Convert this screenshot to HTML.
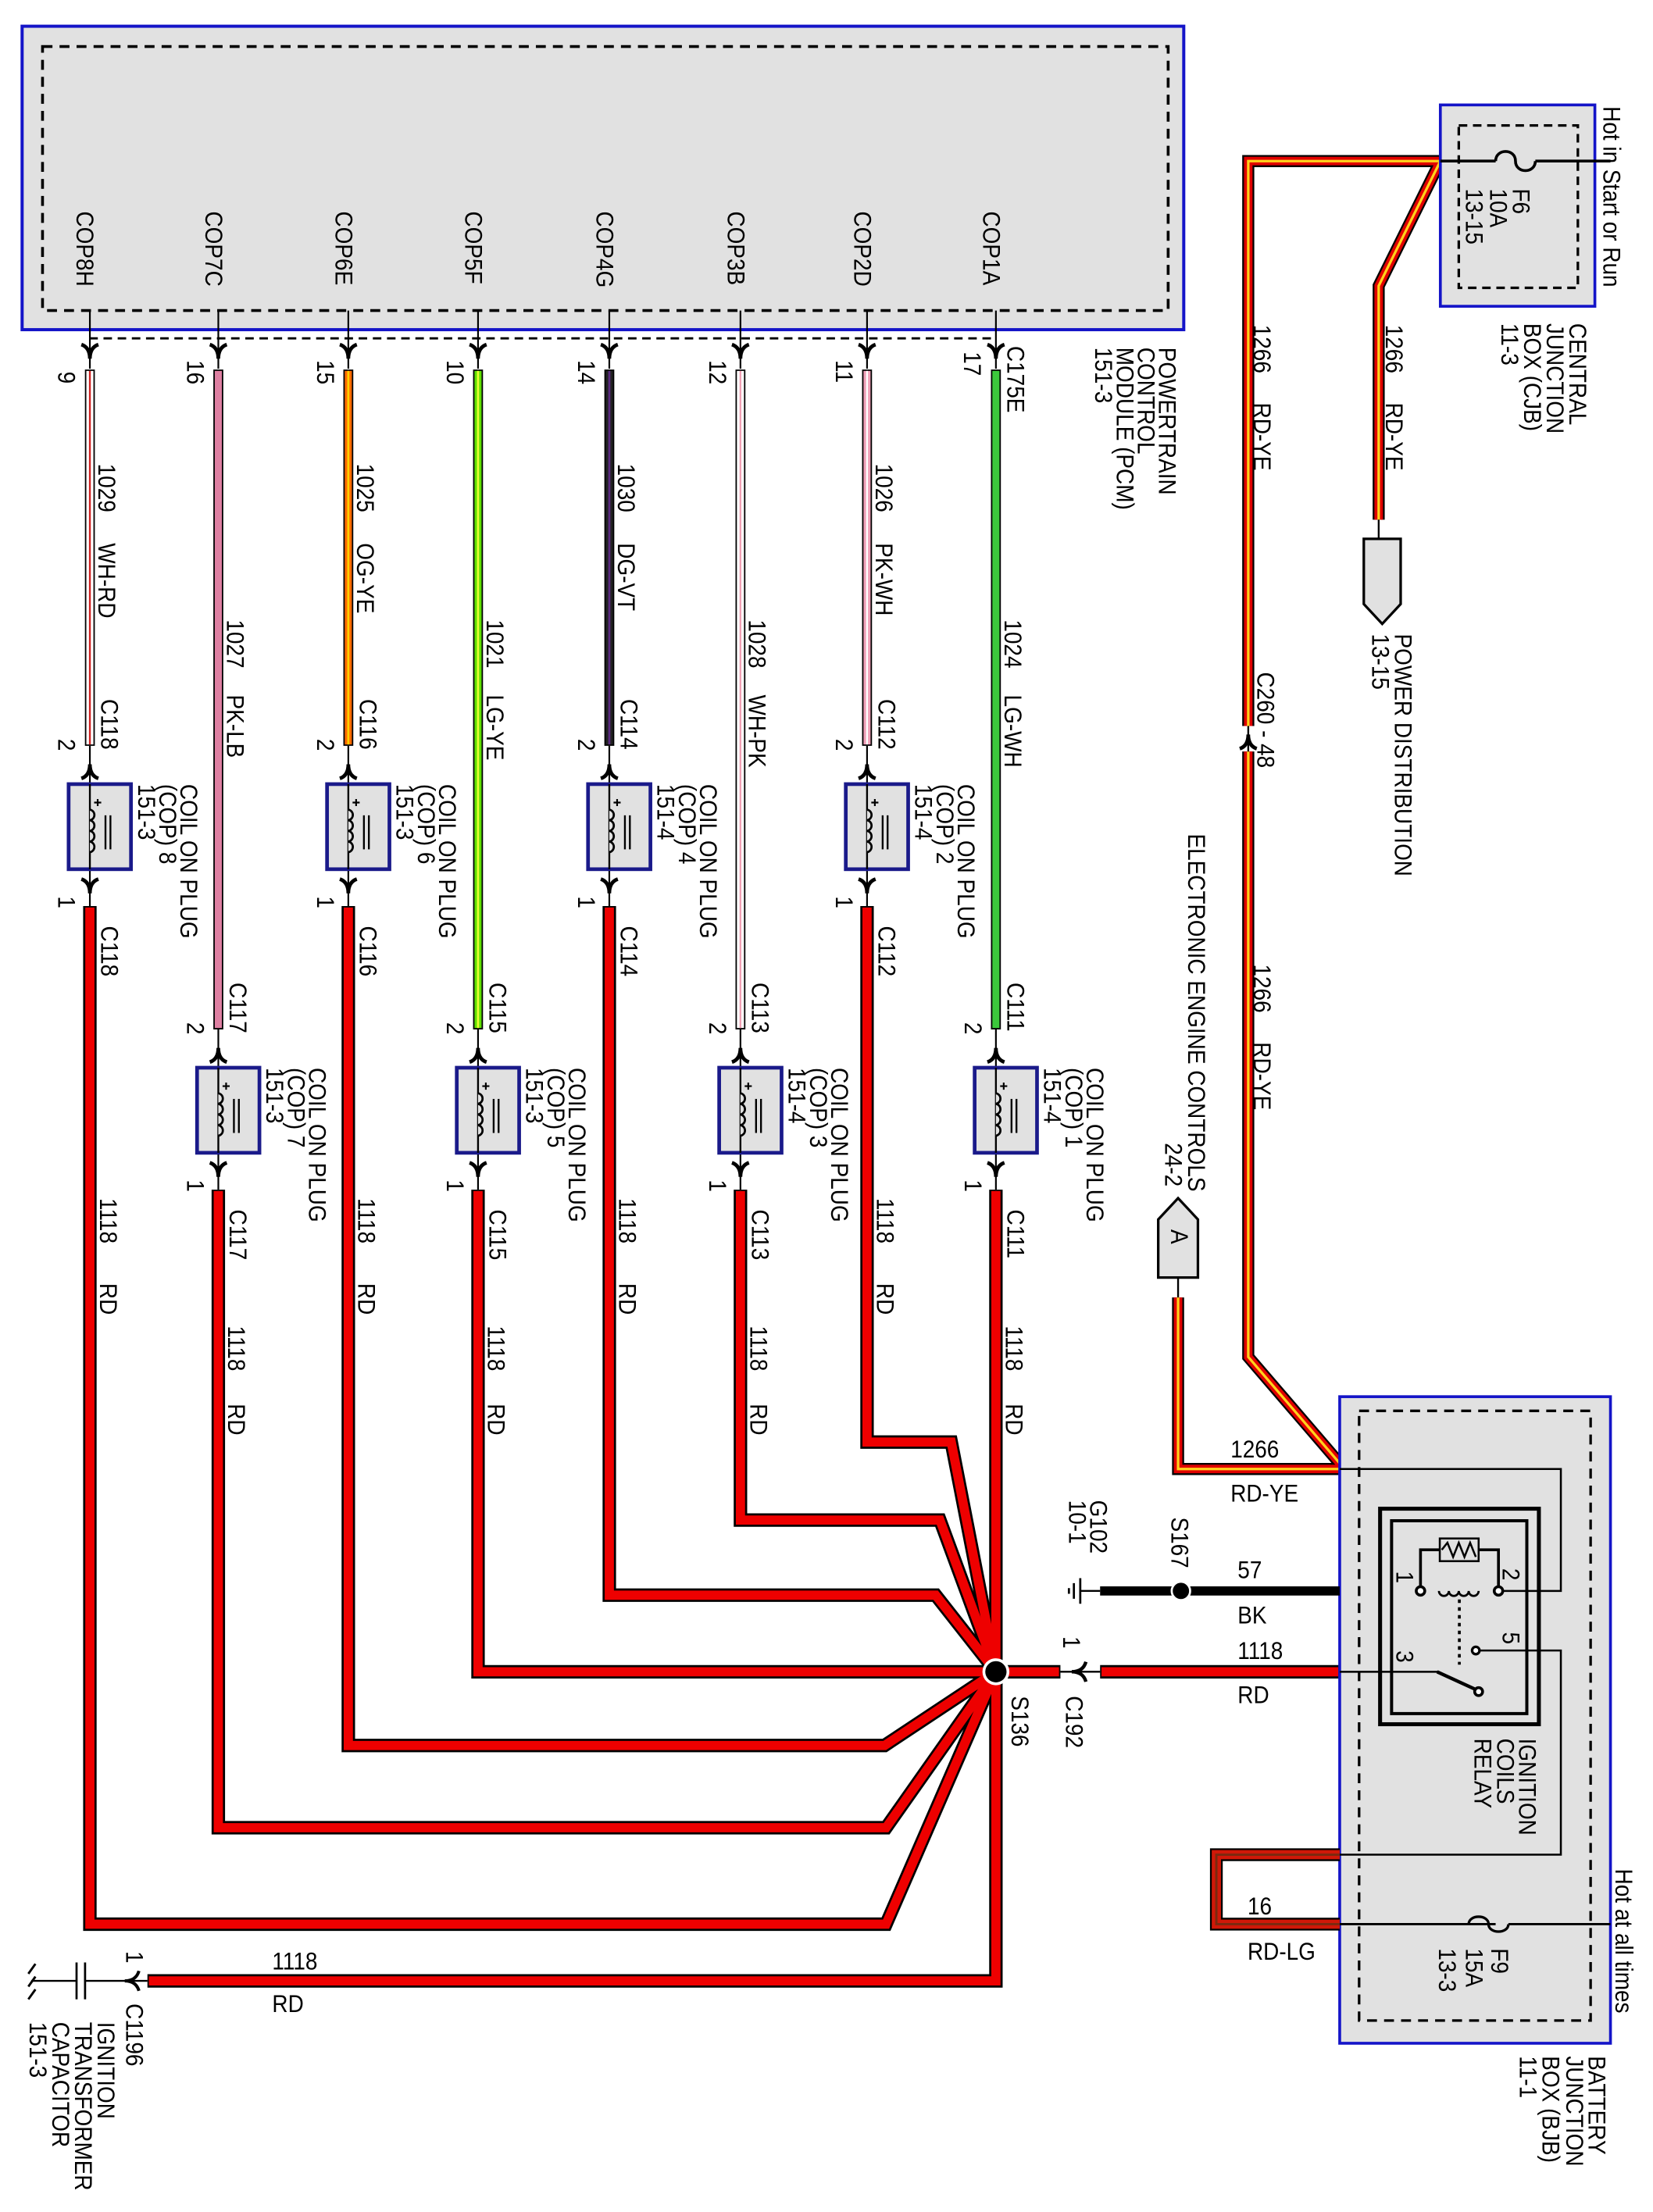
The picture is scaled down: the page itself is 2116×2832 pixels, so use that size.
<!DOCTYPE html>
<html><head><meta charset="utf-8">
<style>
html,body{margin:0;padding:0;background:#fff;}
svg{display:block;}
text{font-family:"Liberation Sans",Arial,sans-serif;font-size:17.5px;fill:#000;}
</style></head>
<body>
<svg xmlns="http://www.w3.org/2000/svg" xmlns:xlink="http://www.w3.org/1999/xlink" width="2116" height="2832" viewBox="0 0 1166 1560" preserveAspectRatio="none">
<defs>
<path id="ad" d="M-6,-6 Q0,-4 0,4 Q0,-4 6,-6" fill="none" stroke="#000" stroke-width="2.6"/>
<path id="au" d="M-6,6 Q0,4 0,-4 Q0,4 6,6" fill="none" stroke="#000" stroke-width="2.6"/>
<g id="coil">
<rect x="-15" y="0" width="44" height="60" fill="#e1e1e1" stroke="#1a1a8a" stroke-width="2.6"/>
<line x1="0" y1="0" x2="0" y2="60" stroke="#000" stroke-width="1.3"/>
<path d="M0,18 a3.8,3.8 0 0 1 0,7.5 a3.8,3.8 0 0 1 0,7.5 a3.8,3.8 0 0 1 0,7.5 a3.8,3.8 0 0 1 0,7.5" fill="#e1e1e1" stroke="#000" stroke-width="1.5"/>
<line x1="11" y1="22" x2="11" y2="46" stroke="#000" stroke-width="1.3"/>
<line x1="14.5" y1="22" x2="14.5" y2="46" stroke="#000" stroke-width="1.3"/>
<path d="M3,13 h5 M5.5,10.5 v5" stroke="#000" stroke-width="1.2"/>
</g>
</defs>

<rect x="15.6" y="18.5" width="819.4" height="214" fill="#e1e1e1" stroke="#1414c8" stroke-width="2.2"/>
<rect x="30" y="32.8" width="794" height="186.2" fill="none" stroke="#000" stroke-width="2" stroke-dasharray="7 5"/>
<line x1="63" y1="238.6" x2="700" y2="238.6" stroke="#000" stroke-width="1.6" stroke-dasharray="6 4"/>

<g stroke="#000" stroke-width="1.2">
<path d="M63.4,219V260 M154,219V260 M245.7,219V260 M337.2,219V260 M429.8,219V260 M522.3,219V260 M611.6,219V260 M702.5,219V260"/>
<path d="M63.4,526V639 M245.7,526V639 M429.8,526V639 M611.6,526V639"/>
<path d="M154,726V839 M337.2,726V839 M522.3,726V839 M702.5,726V839"/>
</g>
<g>
<use xlink:href="#ad" x="63.4" y="249"/><use xlink:href="#ad" x="154" y="249"/><use xlink:href="#ad" x="245.7" y="249"/><use xlink:href="#ad" x="337.2" y="249"/>
<use xlink:href="#ad" x="429.8" y="249"/><use xlink:href="#ad" x="522.3" y="249"/><use xlink:href="#ad" x="611.6" y="249"/><use xlink:href="#ad" x="702.5" y="249"/>
<use xlink:href="#au" x="63.4" y="543"/><use xlink:href="#au" x="245.7" y="543"/><use xlink:href="#au" x="429.8" y="543"/><use xlink:href="#au" x="611.6" y="543"/>
<use xlink:href="#au" x="154" y="743"/><use xlink:href="#au" x="337.2" y="743"/><use xlink:href="#au" x="522.3" y="743"/><use xlink:href="#au" x="702.5" y="743"/>
<use xlink:href="#ad" x="63.4" y="626"/><use xlink:href="#ad" x="245.7" y="626"/><use xlink:href="#ad" x="429.8" y="626"/><use xlink:href="#ad" x="611.6" y="626"/>
<use xlink:href="#ad" x="154" y="826"/><use xlink:href="#ad" x="337.2" y="826"/><use xlink:href="#ad" x="522.3" y="826"/><use xlink:href="#ad" x="702.5" y="826"/>
<use xlink:href="#coil" x="63.4" y="553"/><use xlink:href="#coil" x="245.7" y="553"/><use xlink:href="#coil" x="429.8" y="553"/><use xlink:href="#coil" x="611.6" y="553"/>
<use xlink:href="#coil" x="154" y="753"/><use xlink:href="#coil" x="337.2" y="753"/><use xlink:href="#coil" x="522.3" y="753"/><use xlink:href="#coil" x="702.5" y="753"/>
</g>

<g fill="none" stroke-linecap="butt">
<g stroke="#000" stroke-width="7">
<path d="M63.4,260.6V526 M245.7,260.6V526 M429.8,260.6V526 M611.6,260.6V526 M154,260.6V726 M337.2,260.6V726 M522.3,260.6V726 M702.5,260.6V726"/>
</g>
<path d="M63.4,261.6V525" stroke="#fff" stroke-width="5"/><path d="M63.4,261.6V525" stroke="#d02020" stroke-width="1.3"/>
<path d="M154,261.6V725" stroke="#de80a2" stroke-width="5"/>
<path d="M245.7,261.6V525" stroke="#ff6a00" stroke-width="5"/><path d="M245.7,261.6V525" stroke="#ffd000" stroke-width="1.5"/>
<path d="M337.2,261.6V725" stroke="#5ee000" stroke-width="5"/><path d="M337.2,261.6V725" stroke="#e8ff30" stroke-width="1.5"/>
<path d="M429.8,261.6V525" stroke="#222" stroke-width="5"/><path d="M429.8,261.6V525" stroke="#5a2a80" stroke-width="1.5"/>
<path d="M522.3,261.6V725" stroke="#fff" stroke-width="5"/><path d="M522.3,261.6V725" stroke="#f0a0b4" stroke-width="1.3"/>
<path d="M611.6,261.6V525" stroke="#f0a0b8" stroke-width="5"/><path d="M611.6,261.6V525" stroke="#fff" stroke-width="1.3"/>
<path d="M702.5,261.6V725" stroke="#3cc83c" stroke-width="5"/>
</g>

<g fill="none" stroke-linejoin="miter">
<g stroke="#000" stroke-width="9.5">
<path d="M63.4,639V1357H625L702.5,1179"/>
<path d="M154,839V1289H625L702.5,1179"/>
<path d="M245.7,639V1231H624L702.5,1179"/>
<path d="M337.2,839V1179H702.5"/>
<path d="M429.8,639V1125H660L702.5,1179"/>
<path d="M522.3,839V1072H663L702.5,1179"/>
<path d="M611.6,639V1017H671L702.5,1179"/>
<path d="M702.5,839V1397H104"/>
<path d="M702.5,1179H748 M776,1179H945"/>
</g>
<g stroke="#ee0000" stroke-width="6.5">
<path d="M63.4,640V1357H625L702.5,1179"/>
<path d="M154,840V1289H625L702.5,1179"/>
<path d="M245.7,640V1231H624L702.5,1179"/>
<path d="M337.2,840V1179H702.5"/>
<path d="M429.8,640V1125H660L702.5,1179"/>
<path d="M522.3,840V1072H663L702.5,1179"/>
<path d="M611.6,640V1017H671L702.5,1179"/>
<path d="M702.5,840V1397H105"/>
<path d="M702.5,1179H747 M777,1179H944"/>
</g>
</g>
<circle cx="702.5" cy="1179" r="9.5" fill="#fff"/>
<circle cx="702.5" cy="1179" r="7.5" fill="#000"/>
<line x1="748" y1="1179" x2="776" y2="1179" stroke="#000" stroke-width="1.3"/>
<path d="M766,1172 Q764,1179 756,1179 Q764,1179 766,1186" fill="none" stroke="#000" stroke-width="2.4"/>

<line x1="22" y1="1397" x2="104" y2="1397" stroke="#000" stroke-width="1.3"/>
<path d="M98,1390 Q96,1397 88,1397 Q96,1397 98,1404" fill="none" stroke="#000" stroke-width="2.2"/>
<rect x="54" y="1384" width="6" height="26" fill="#fff"/>
<line x1="54" y1="1384" x2="54" y2="1410" stroke="#000" stroke-width="1.5"/>
<line x1="60" y1="1384" x2="60" y2="1410" stroke="#000" stroke-width="1.5"/>
<path d="M25,1385 l-5,7 M25,1394 l-5,7 M25,1403 l-5,7" fill="none" stroke="#000" stroke-width="1.6"/>

<g fill="none" stroke-linejoin="miter">
<path d="M1016,113.6H880.5V512 M880.5,530V957L945,1032 M1016,113.6L972.5,201.6V366.5 M831,915V1036H945" stroke="#000" stroke-width="8.5"/>
<path d="M1016,113.6H880.5V512 M880.5,530V957L945,1032 M1016,113.6L972.5,201.6V366.5 M831,915V1036H945" stroke="#e00000" stroke-width="6"/>
<path d="M1016,113.6H880.5V512 M880.5,530V957L945,1032 M1016,113.6L972.5,201.6V366.5 M831,915V1036H945" stroke="#ffd21c" stroke-width="1.8"/>
</g>
<line x1="880.5" y1="512" x2="880.5" y2="530" stroke="#000" stroke-width="1.3"/>
<use xlink:href="#au" x="880.5" y="522"/>
<line x1="972.5" y1="366.5" x2="972.5" y2="380" stroke="#000" stroke-width="1.3"/>
<path d="M962,380H988V426L975,440L962,426Z" fill="#e1e1e1" stroke="#000" stroke-width="1.8"/>
<path d="M817,860L831,845L845,860V901H817Z" fill="#e1e1e1" stroke="#000" stroke-width="1.8"/>
<line x1="831" y1="901" x2="831" y2="915" stroke="#000" stroke-width="1.3"/>

<rect x="1016" y="74" width="109" height="142" fill="#e1e1e1" stroke="#1414c8" stroke-width="2"/>
<rect x="1029" y="88.5" width="84" height="114.5" fill="none" stroke="#000" stroke-width="1.8" stroke-dasharray="6 4"/>
<path d="M1016,113.6H1055 M1083,113.6H1136" stroke="#000" stroke-width="2"/>
<path d="M1055,113.6 c0,-9 14,-9 14,0 c0,9 14,9 14,0" fill="none" stroke="#000" stroke-width="2"/>

<rect x="945" y="985" width="191" height="456" fill="#e1e1e1" stroke="#1414c8" stroke-width="2"/>
<rect x="958.7" y="995" width="163.3" height="430" fill="none" stroke="#000" stroke-width="1.8" stroke-dasharray="7 5"/>
<g fill="none" stroke="#000">
<rect x="973.5" y="1064" width="112" height="152" stroke-width="2.8"/>
<rect x="981.6" y="1072.5" width="95.4" height="136" stroke-width="2.2"/>
<path d="M945,1036H1101V1122H1057" stroke-width="1.4"/>
<path d="M1002,1122V1093H1015.6 M1043,1093H1057V1122" stroke-width="2"/>
<rect x="1015.6" y="1085" width="27.4" height="16" stroke-width="1.4"/>
<path d="M1017,1093 L1021,1088 L1025,1098 L1029,1088 L1033,1098 L1037,1088 L1041,1098" stroke-width="1.4"/>
<path d="M1015,1122 a3.5,3.5 0 0 0 7,0 a3.5,3.5 0 0 0 7,0 a3.5,3.5 0 0 0 7,0 a3.5,3.5 0 0 0 7,0" stroke-width="1.5"/>
<path d="M1029.4,1128V1174" stroke-width="2" stroke-dasharray="2.5 3"/>
<path d="M945,1179H1013.7 L1042,1192" stroke-width="1.4"/>
<path d="M1013.7,1179 L1042,1192" stroke-width="2.4"/>
<path d="M1044,1164H1101V1308H945" stroke-width="1.4"/>
<path d="M945,1357H1055 M1064,1357H1136" stroke-width="1.6"/>
<path d="M1036,1357 c0,-7 14,-7 14,0 c0,7 14,7 14,0" stroke-width="1.8"/>
</g>
<circle cx="1002" cy="1122" r="3" fill="#fff" stroke="#000" stroke-width="2"/>
<circle cx="1057" cy="1122" r="3" fill="#fff" stroke="#000" stroke-width="2"/>
<circle cx="1041" cy="1164" r="2.6" fill="#fff" stroke="#000" stroke-width="1.8"/>
<circle cx="1043" cy="1193" r="2.8" fill="#fff" stroke="#000" stroke-width="2"/>

<path d="M776,1122H945" stroke="#000" stroke-width="6.5"/>
<path d="M762,1122H776" stroke="#000" stroke-width="1.3"/>
<circle cx="833" cy="1122" r="6.5" fill="#000" stroke="#fff" stroke-width="1.5"/>
<path d="M762,1113V1131 M757.5,1116.5V1127.5 M754,1120V1124" stroke="#000" stroke-width="1.5"/>

<g fill="none">
<path d="M945,1308H858V1357H945" stroke="#000" stroke-width="9"/>
<path d="M945,1308H858V1357H945" stroke="#d01808" stroke-width="6.5"/>
<path d="M945,1308H858V1357H945" stroke="#7a2a10" stroke-width="1.6"/>
</g>

<g>
<text transform="translate(54,149) rotate(90) scale(.88,1)">COP8H</text>
<text transform="translate(145,149) rotate(90) scale(.88,1)">COP7C</text>
<text transform="translate(236.7,149) rotate(90) scale(.88,1)">COP6E</text>
<text transform="translate(328.2,149) rotate(90) scale(.88,1)">COP5F</text>
<text transform="translate(420.8,149) rotate(90) scale(.88,1)">COP4G</text>
<text transform="translate(513.3,149) rotate(90) scale(.88,1)">COP3B</text>
<text transform="translate(602.6,149) rotate(90) scale(.88,1)">COP2D</text>
<text transform="translate(693.5,149) rotate(90) scale(.88,1)">COP1A</text>

<text transform="translate(41,262) rotate(90) scale(.88,1)">9</text>
<text transform="translate(132,254) rotate(90) scale(.88,1)">16</text>
<text transform="translate(223.7,254) rotate(90) scale(.88,1)">15</text>
<text transform="translate(315.2,254) rotate(90) scale(.88,1)">10</text>
<text transform="translate(407.8,254) rotate(90) scale(.88,1)">14</text>
<text transform="translate(500.3,254) rotate(90) scale(.88,1)">12</text>
<text transform="translate(589.6,254) rotate(90) scale(.88,1)">11</text>
<text transform="translate(680,248) rotate(90) scale(.88,1)">17</text>
<text transform="translate(710.5,244) rotate(90) scale(.88,1)">C175E</text>

<text transform="translate(69.4,327) rotate(90) scale(.88,1)">1029</text>
<text transform="translate(69.4,383) rotate(90) scale(.88,1)">WH-RD</text>
<text transform="translate(160,437) rotate(90) scale(.88,1)">1027</text>
<text transform="translate(160,490) rotate(90) scale(.88,1)">PK-LB</text>
<text transform="translate(251.7,327) rotate(90) scale(.88,1)">1025</text>
<text transform="translate(251.7,383) rotate(90) scale(.88,1)">OG-YE</text>
<text transform="translate(343.2,437) rotate(90) scale(.88,1)">1021</text>
<text transform="translate(343.2,490) rotate(90) scale(.88,1)">LG-YE</text>
<text transform="translate(435.8,327) rotate(90) scale(.88,1)">1030</text>
<text transform="translate(435.8,383) rotate(90) scale(.88,1)">DG-VT</text>
<text transform="translate(528.3,437) rotate(90) scale(.88,1)">1028</text>
<text transform="translate(528.3,490) rotate(90) scale(.88,1)">WH-PK</text>
<text transform="translate(617.6,327) rotate(90) scale(.88,1)">1026</text>
<text transform="translate(617.6,383) rotate(90) scale(.88,1)">PK-WH</text>
<text transform="translate(708.5,437) rotate(90) scale(.88,1)">1024</text>
<text transform="translate(708.5,490) rotate(90) scale(.88,1)">LG-WH</text>

<text transform="translate(71.4,493) rotate(90) scale(.88,1)">C118</text>
<text transform="translate(41,521) rotate(90) scale(.88,1)">2</text>
<text transform="translate(71.4,653) rotate(90) scale(.88,1)">C118</text>
<text transform="translate(41,632) rotate(90) scale(.88,1)">1</text>
<text transform="translate(253.7,493) rotate(90) scale(.88,1)">C116</text>
<text transform="translate(223.7,521) rotate(90) scale(.88,1)">2</text>
<text transform="translate(253.7,653) rotate(90) scale(.88,1)">C116</text>
<text transform="translate(223.7,632) rotate(90) scale(.88,1)">1</text>
<text transform="translate(437.8,493) rotate(90) scale(.88,1)">C114</text>
<text transform="translate(407.8,521) rotate(90) scale(.88,1)">2</text>
<text transform="translate(437.8,653) rotate(90) scale(.88,1)">C114</text>
<text transform="translate(407.8,632) rotate(90) scale(.88,1)">1</text>
<text transform="translate(619.6,493) rotate(90) scale(.88,1)">C112</text>
<text transform="translate(589.6,521) rotate(90) scale(.88,1)">2</text>
<text transform="translate(619.6,653) rotate(90) scale(.88,1)">C112</text>
<text transform="translate(589.6,632) rotate(90) scale(.88,1)">1</text>
<text transform="translate(162,693) rotate(90) scale(.88,1)">C117</text>
<text transform="translate(132,721) rotate(90) scale(.88,1)">2</text>
<text transform="translate(162,853) rotate(90) scale(.88,1)">C117</text>
<text transform="translate(132,832) rotate(90) scale(.88,1)">1</text>
<text transform="translate(345.2,693) rotate(90) scale(.88,1)">C115</text>
<text transform="translate(315.2,721) rotate(90) scale(.88,1)">2</text>
<text transform="translate(345.2,853) rotate(90) scale(.88,1)">C115</text>
<text transform="translate(315.2,832) rotate(90) scale(.88,1)">1</text>
<text transform="translate(530.3,693) rotate(90) scale(.88,1)">C113</text>
<text transform="translate(500.3,721) rotate(90) scale(.88,1)">2</text>
<text transform="translate(530.3,853) rotate(90) scale(.88,1)">C113</text>
<text transform="translate(500.3,832) rotate(90) scale(.88,1)">1</text>
<text transform="translate(710.5,693) rotate(90) scale(.88,1)">C111</text>
<text transform="translate(680.5,721) rotate(90) scale(.88,1)">2</text>
<text transform="translate(710.5,853) rotate(90) scale(.88,1)">C111</text>
<text transform="translate(680.5,832) rotate(90) scale(.88,1)">1</text>

<text transform="translate(127.4,553) rotate(90) scale(.88,1)">COIL ON PLUG</text>
<text transform="translate(112.4,553) rotate(90) scale(.88,1)">(COP) 8</text>
<text transform="translate(97.4,553) rotate(90) scale(.88,1)">151-3</text>
<text transform="translate(218,753) rotate(90) scale(.88,1)">COIL ON PLUG</text>
<text transform="translate(203,753) rotate(90) scale(.88,1)">(COP) 7</text>
<text transform="translate(188,753) rotate(90) scale(.88,1)">151-3</text>
<text transform="translate(309.7,553) rotate(90) scale(.88,1)">COIL ON PLUG</text>
<text transform="translate(294.7,553) rotate(90) scale(.88,1)">(COP) 6</text>
<text transform="translate(279.7,553) rotate(90) scale(.88,1)">151-3</text>
<text transform="translate(401.2,753) rotate(90) scale(.88,1)">COIL ON PLUG</text>
<text transform="translate(386.2,753) rotate(90) scale(.88,1)">(COP) 5</text>
<text transform="translate(371.2,753) rotate(90) scale(.88,1)">151-3</text>
<text transform="translate(493.8,553) rotate(90) scale(.88,1)">COIL ON PLUG</text>
<text transform="translate(478.8,553) rotate(90) scale(.88,1)">(COP) 4</text>
<text transform="translate(463.8,553) rotate(90) scale(.88,1)">151-4</text>
<text transform="translate(586.3,753) rotate(90) scale(.88,1)">COIL ON PLUG</text>
<text transform="translate(571.3,753) rotate(90) scale(.88,1)">(COP) 3</text>
<text transform="translate(556.3,753) rotate(90) scale(.88,1)">151-4</text>
<text transform="translate(675.6,553) rotate(90) scale(.88,1)">COIL ON PLUG</text>
<text transform="translate(660.6,553) rotate(90) scale(.88,1)">(COP) 2</text>
<text transform="translate(645.6,553) rotate(90) scale(.88,1)">151-4</text>
<text transform="translate(766.5,753) rotate(90) scale(.88,1)">COIL ON PLUG</text>
<text transform="translate(751.5,753) rotate(90) scale(.88,1)">(COP) 1</text>
<text transform="translate(736.5,753) rotate(90) scale(.88,1)">151-4</text>

<text transform="translate(70.4,845) rotate(90) scale(.88,1)">1118</text>
<text transform="translate(70.4,905) rotate(90) scale(.88,1)">RD</text>
<text transform="translate(161,935) rotate(90) scale(.88,1)">1118</text>
<text transform="translate(161,990) rotate(90) scale(.88,1)">RD</text>
<text transform="translate(252.7,845) rotate(90) scale(.88,1)">1118</text>
<text transform="translate(252.7,905) rotate(90) scale(.88,1)">RD</text>
<text transform="translate(344.2,935) rotate(90) scale(.88,1)">1118</text>
<text transform="translate(344.2,990) rotate(90) scale(.88,1)">RD</text>
<text transform="translate(436.8,845) rotate(90) scale(.88,1)">1118</text>
<text transform="translate(436.8,905) rotate(90) scale(.88,1)">RD</text>
<text transform="translate(529.3,935) rotate(90) scale(.88,1)">1118</text>
<text transform="translate(529.3,990) rotate(90) scale(.88,1)">RD</text>
<text transform="translate(618.6,845) rotate(90) scale(.88,1)">1118</text>
<text transform="translate(618.6,905) rotate(90) scale(.88,1)">RD</text>
<text transform="translate(709.5,935) rotate(90) scale(.88,1)">1118</text>
<text transform="translate(709.5,990) rotate(90) scale(.88,1)">RD</text>

<text transform="translate(817.6,245) rotate(90) scale(.88,1)">POWERTRAIN</text>
<text transform="translate(802.6,245) rotate(90) scale(.88,1)">CONTROL</text>
<text transform="translate(787.6,245) rotate(90) scale(.88,1)">MODULE (PCM)</text>
<text transform="translate(772.6,245) rotate(90) scale(.88,1)">151-3</text>

<text transform="translate(1131,75) rotate(90) scale(.88,1)">Hot in Start or Run</text>
<text transform="translate(1067,133) rotate(90) scale(.88,1)">F6</text>
<text transform="translate(1051,133) rotate(90) scale(.88,1)">10A</text>
<text transform="translate(1034,133) rotate(90) scale(.88,1)">13-15</text>
<text transform="translate(1107,228) rotate(90) scale(.88,1)">CENTRAL</text>
<text transform="translate(1091,228) rotate(90) scale(.88,1)">JUNCTION</text>
<text transform="translate(1075,228) rotate(90) scale(.88,1)">BOX (CJB)</text>
<text transform="translate(1059,228) rotate(90) scale(.88,1)">11-3</text>

<text transform="translate(884.5,229) rotate(90) scale(.88,1)">1266</text>
<text transform="translate(884.5,284) rotate(90) scale(.88,1)">RD-YE</text>
<text transform="translate(977.6,229) rotate(90) scale(.88,1)">1266</text>
<text transform="translate(977.6,284) rotate(90) scale(.88,1)">RD-YE</text>
<text transform="translate(884.5,680) rotate(90) scale(.88,1)">1266</text>
<text transform="translate(884.5,735) rotate(90) scale(.88,1)">RD-YE</text>
<text transform="translate(887,474) rotate(90) scale(.88,1)">C260 - 48</text>
<text transform="translate(984,447) rotate(90) scale(.88,1)">POWER DISTRIBUTION</text>
<text transform="translate(968,447) rotate(90) scale(.88,1)">13-15</text>
<text transform="translate(838,588) rotate(90) scale(.88,1)">ELECTRONIC ENGINE CONTROLS</text>
<text transform="translate(822,806) rotate(90) scale(.88,1)">24-2</text>
<text transform="translate(826,867) rotate(90) scale(.88,1)">A</text>

<text transform="translate(769,1058) rotate(90) scale(.88,1)">G102</text>
<text transform="translate(754,1058) rotate(90) scale(.88,1)">10-1</text>
<text transform="translate(826.4,1070) rotate(90) scale(.88,1)">S167</text>
<text transform="translate(750,1154) rotate(90) scale(.88,1)">1</text>
<text transform="translate(752,1196) rotate(90) scale(.88,1)">C192</text>
<text transform="translate(713.5,1196) rotate(90) scale(.88,1)">S136</text>

<text transform="translate(985,1108) rotate(90) scale(.88,1)">1</text>
<text transform="translate(1060,1106) rotate(90) scale(.88,1)">2</text>
<text transform="translate(985,1164) rotate(90) scale(.88,1)">3</text>
<text transform="translate(1060,1151) rotate(90) scale(.88,1)">5</text>
<text transform="translate(1071.6,1226) rotate(90) scale(.88,1)">IGNITION</text>
<text transform="translate(1056,1226) rotate(90) scale(.88,1)">COILS</text>
<text transform="translate(1040,1226) rotate(90) scale(.88,1)">RELAY</text>
<text transform="translate(1052,1374) rotate(90) scale(.88,1)">F9</text>
<text transform="translate(1034,1374) rotate(90) scale(.88,1)">15A</text>
<text transform="translate(1015,1374) rotate(90) scale(.88,1)">13-3</text>
<text transform="translate(1139.5,1318) rotate(90) scale(.88,1)">Hot at all times</text>
<text transform="translate(1120.6,1450) rotate(90) scale(.88,1)">BATTERY</text>
<text transform="translate(1104.7,1450) rotate(90) scale(.88,1)">JUNCTION</text>
<text transform="translate(1088,1450) rotate(90) scale(.88,1)">BOX (BJB)</text>
<text transform="translate(1072,1450) rotate(90) scale(.88,1)">11-1</text>

<text transform="translate(89,1376) rotate(90) scale(.88,1)">1</text>
<text transform="translate(89,1413) rotate(90) scale(.88,1)">C1196</text>
<text transform="translate(69,1426) rotate(90) scale(.88,1)">IGNITION</text>
<text transform="translate(53,1426) rotate(90) scale(.88,1)">TRANSFORMER</text>
<text transform="translate(37,1426) rotate(90) scale(.88,1)">CAPACITOR</text>
<text transform="translate(21,1426) rotate(90) scale(.88,1)">151-3</text>
</g>

<g>
<text transform="translate(868,1028) scale(.88,1)">1266</text>
<text transform="translate(868,1059) scale(.88,1)">RD-YE</text>
<text transform="translate(873,1113) scale(.88,1)">57</text>
<text transform="translate(873,1145) scale(.88,1)">BK</text>
<text transform="translate(873,1170) scale(.88,1)">1118</text>
<text transform="translate(873,1201) scale(.88,1)">RD</text>
<text transform="translate(880,1350) scale(.88,1)">16</text>
<text transform="translate(880,1382) scale(.88,1)">RD-LG</text>
<text transform="translate(192,1389) scale(.88,1)">1118</text>
<text transform="translate(192,1419) scale(.88,1)">RD</text>
</g>
</svg>
</body></html>
